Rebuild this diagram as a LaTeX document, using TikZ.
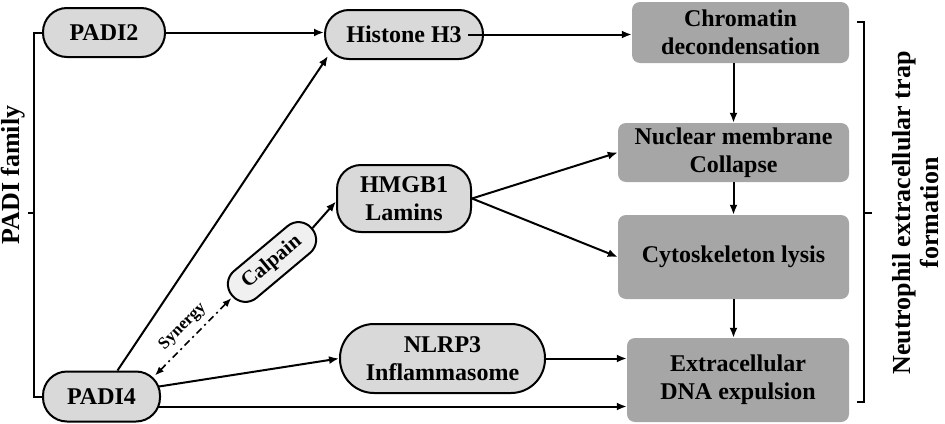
\documentclass[tikz,border=0pt]{standalone}
\usepackage{fontspec}
\setmainfont{Liberation Serif}
\usetikzlibrary{arrows.meta}
\definecolor{pillgray}{HTML}{D9D9D9}
\definecolor{calgray}{HTML}{F0F0F0}
\definecolor{boxgray}{HTML}{A6A6A6}
\begin{document}
\begin{tikzpicture}[x=1pt,y=1pt,
  txt/.style={font=\bfseries\fontsize{24}{28}\selectfont, align=center, inner sep=0pt},
  pill/.style={txt, draw=black, line width=2pt, fill=pillgray, rounded corners=#1},
  pill/.default=24pt,
  stepbox/.style={txt, fill=boxgray, rounded corners=8pt},
  conn/.style={line width=2pt, -{Latex[length=10pt,width=8pt]}},
  brk/.style={line width=2pt}]
\useasboundingbox (0,0) rectangle (945,-423);

% left pills
\node[pill, minimum width=122pt, minimum height=49pt] (padi2) at (104,-32.5) {PADI2};
\node[pill, minimum width=117pt, minimum height=50pt] (padi4) at (101.5,-396.5) {PADI4};
\node[pill, minimum width=158pt, minimum height=49pt] (h3) at (404,-34.5) {Histone H3};
\node[pill=24pt, minimum width=134pt, minimum height=67pt] (hmgb) at (404,-198.5) {HMGB1\\Lamins};
\node[pill=34pt, minimum width=205pt, minimum height=69pt] (nlrp) at (442.5,-358.5) {NLRP3\\Inflammasome};
\node[txt, draw=black, line width=2pt, fill=calgray, rounded corners=17pt,
      minimum width=104pt, minimum height=35pt, rotate=40,
      font=\bfseries\fontsize{21}{24}\selectfont] (calp) at (272,-262) {Calpain};

% right boxes
\node[stepbox, minimum width=217pt, minimum height=61pt] (chrom) at (740.5,-32.5) {Chromatin\\decondensation};
\node[stepbox, minimum width=231pt, minimum height=59pt] (nuc) at (733.5,-152.5) {Nuclear membrane\\Collapse};
\node[stepbox, minimum width=231pt, minimum height=84pt] (cyto) at (733.5,-257) {Cytoskeleton lysis};
\node[stepbox, minimum width=222pt, minimum height=84pt] (dna) at (738,-380) {Extracellular\\DNA expulsion};

% connectors
\draw[conn] (padi2.east) -- (padi2.east -| h3.west);
\draw[conn] ([xshift=16pt]padi4.north) -- ([xshift=4pt,yshift=4pt]h3.south west);
\draw[conn] ([xshift=-16pt]h3.east) -- (h3.east -| chrom.west);
\draw[conn] (nuc.north |- chrom.south) -- (nuc.north);
\draw[conn] (nuc.south) -- (cyto.north);
\draw[conn] (cyto.south) -- (cyto.south |- dna.north);
\draw[conn] (hmgb.east) -- (nuc.west);
\draw[conn] (hmgb.east) -- (cyto.west);
\draw[conn] (calp.east) -- ([yshift=-3pt]hmgb.west);
\coordinate (p4a) at ([xshift=-2pt,yshift=10pt]padi4.east);
\coordinate (p4b) at ([xshift=-2pt,yshift=-10pt]padi4.east);
\draw[conn] (p4a) -- (nlrp.west);
\draw[conn] (nlrp.east) -- (nlrp.east -| dna.west);
\draw[conn] (p4b) -- (p4b -| dna.west);
\draw[line width=1.6pt, dash pattern=on 7pt off 4pt on 2pt off 4pt,
      {Latex[length=9pt,width=7pt]}-{Latex[length=9pt,width=7pt]}]
  ([xshift=-6pt,yshift=-5pt]padi4.north east) -- ([yshift=-2pt]calp.west)
  node[midway, sloped, above=3pt, font=\bfseries\fontsize{17}{19}\selectfont] (syn) {Synergy};

% left bracket
\coordinate (lb) at (34,-213);
\draw[brk] (padi2.west) -| (lb) |- (padi4.west);
\draw[brk] (lb) -- ++(-6,0);
\node[txt, rotate=90, font=\bfseries\fontsize{26}{30}\selectfont] (fam) at (13,-175) {PADI family};

% right bracket
\coordinate (rb) at (864,-213);
\coordinate (rbt) at (857,-22);
\coordinate (rbb) at (857,-402);
\draw[brk] (rbt) -| (rb) |- (rbb);
\draw[brk] (rb) -- ++(8,0);
\node[txt, rotate=90, font=\bfseries\fontsize{26}{28}\selectfont] (net) at (916,-213) {Neutrophil extracellular trap\\formation};
\end{tikzpicture}
\end{document}
